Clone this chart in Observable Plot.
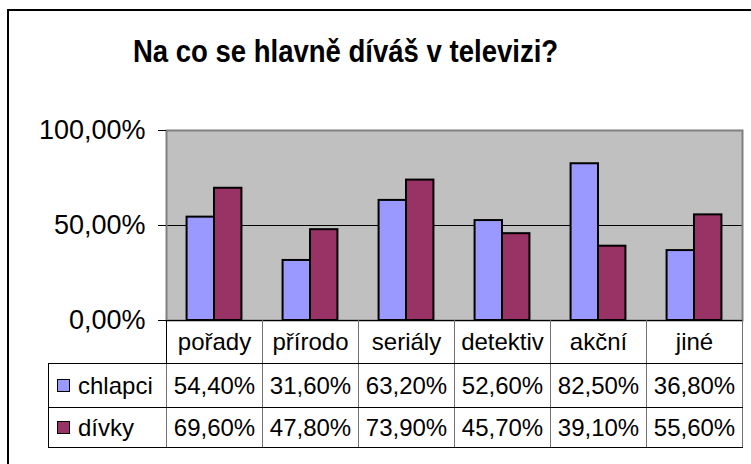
<!DOCTYPE html>
<html>
<head>
<meta charset="utf-8">
<script src="https://cdn.jsdelivr.net/npm/d3@7"></script>
<script src="https://cdn.jsdelivr.net/npm/@observablehq/plot@0.6"></script>
<style>
html,body{margin:0;padding:0;background:#fff;}
body{width:751px;height:464px;overflow:hidden;position:relative;font-family:"Liberation Sans",Arial,Helvetica,sans-serif;color:#000;}
#frame{position:absolute;left:7px;top:9px;width:800px;height:500px;border-left:2px solid #000;border-top:2px solid #000;}
#title{position:absolute;left:0;top:35px;width:691px;text-align:center;font-size:32px;font-weight:bold;line-height:32px;transform:scaleX(0.86);transform-origin:345.5px 0;white-space:nowrap;}
#chart{position:absolute;left:0;top:0;}
#tbl{position:absolute;left:48px;top:320px;border-collapse:collapse;table-layout:fixed;font-size:24px;}
#tbl td{padding:0;text-align:center;vertical-align:middle;border-right:1px solid #707070;border-bottom:1px solid #000;white-space:nowrap;overflow:visible;line-height:24px;}
#tbl td.blank{border-right:1px solid #000;}
#tbl td.leg{text-align:left;padding-left:8px;border-left:1px solid #000;}
#tbl tr.hdr td{height:43px;}
#tbl tr.r0 td{height:43px;}
#tbl tr.r1 td{height:39px;}
.key{display:inline-block;width:11px;height:11px;border:1.5px solid #000;vertical-align:middle;margin-right:8px;position:relative;top:-2px;}
</style>
</head>
<body>
<div id="frame"></div>
<div id="chart"></div>
<div id="title"></div>
<table id="tbl"></table>
<script>
const titulek = "Na co se hlavně díváš v televizi?";
const kategorie = ["pořady", "přírodo", "seriály", "detektiv", "akční", "jiné"];
const serie = ["chlapci", "dívky"];
const chlapci = [0.544, 0.316, 0.632, 0.526, 0.825, 0.368];
const divky = [0.696, 0.478, 0.739, 0.457, 0.391, 0.556];
const barvy = ["#9999ff", "#993366"];
const yTicks = [0, 0.5, 1];

const hodnoty = [chlapci, divky];
const fmt = v => (v * 100).toFixed(2).replace(".", ",") + "%";

const data = kategorie.flatMap((k, i) => serie.map((s, si) => ({kategorie: k, serie: s, hodnota: hodnoty[si][i]})));

const W = 751, mL = 166, mR = 9;
const bw = (W - mL - mR) / kategorie.length;
const bar = bw / 3.5;

const barMark = (si) => Plot.barY(data.filter(d => d.serie === serie[si]), {
  x: "kategorie", y: "hodnota",
  fill: barvy[si], stroke: "#000", strokeWidth: 2,
  insetLeft: si === 0 ? 0.75 * bar : 1.75 * bar,
  insetRight: si === 0 ? bw - 1.75 * bar : 0.75 * bar
});

const chart = Plot.plot({
  width: W, height: 330,
  marginLeft: mL, marginRight: mR, marginTop: 130, marginBottom: 10,
  style: {fontFamily: "'Liberation Sans', Arial, sans-serif", background: "transparent", overflow: "visible"},
  x: {domain: kategorie, padding: 0, axis: null},
  y: {domain: [0, 1]},
  marks: [
    Plot.frame({fill: "#c0c0c0"}),
    Plot.ruleY([0.5], {stroke: "#000", strokeWidth: 1}),
    Plot.frame({stroke: "#808080", strokeWidth: 2}),
    barMark(0),
    barMark(1),
    Plot.ruleY([0], {stroke: "#000", strokeWidth: 1.2}),
    Plot.axisY({ticks: yTicks, tickFormat: fmt, tickSize: 8, tickPadding: 13, fontSize: 27, label: null, stroke: "#000", fill: "#000"})
  ]
});
document.getElementById("chart").appendChild(chart);
document.getElementById("title").textContent = titulek;

let html = '<colgroup><col style="width:118px">' + kategorie.map(() => '<col style="width:96px">').join("") + '</colgroup>';
html += '<tr class="hdr"><td class="blank"></td>' + kategorie.map(k => `<td>${k}</td>`).join("") + '</tr>';
serie.forEach((s, si) => {
  html += `<tr class="r${si}"><td class="leg"><span class="key" style="background:${barvy[si]}"></span>${s}</td>` +
    hodnoty[si].map(v => `<td>${fmt(v)}</td>`).join("") + '</tr>';
});
document.getElementById("tbl").innerHTML = html;
</script>
</body>
</html>
